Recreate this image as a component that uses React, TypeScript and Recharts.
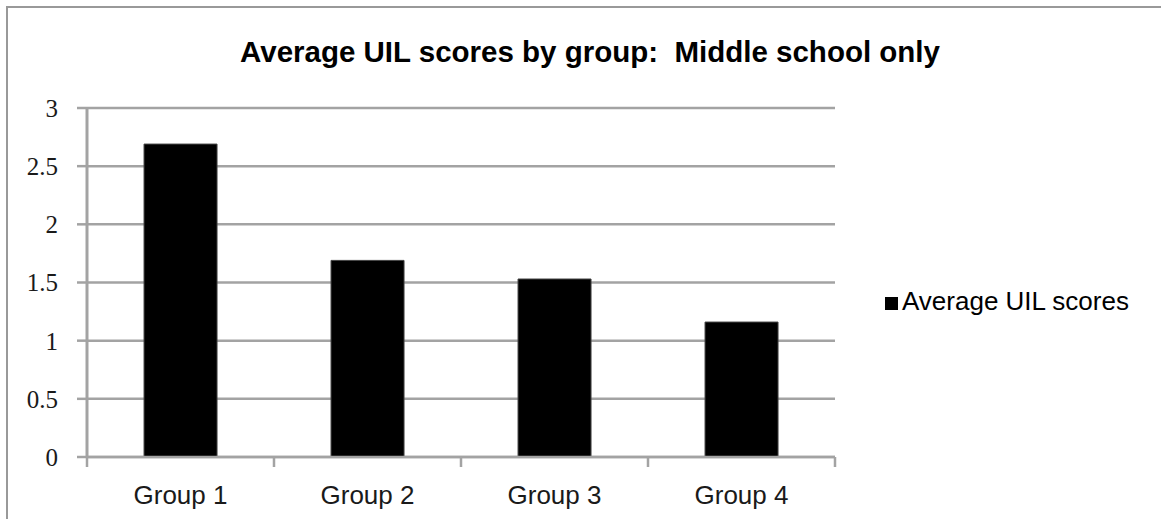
import React from 'react';
import { BarChart, Bar, XAxis, YAxis, CartesianGrid, Legend } from 'recharts';

const GROUPS = ['Group 1', 'Group 2', 'Group 3', 'Group 4'];
const UIL_SCORES = [2.69, 1.69, 1.53, 1.16];
const Y_TICKS = [0, 0.5, 1, 1.5, 2, 2.5, 3];

const data = GROUPS.map((g, i) => ({ group: g, score: UIL_SCORES[i] }));

const WIDTH = 1161;
const HEIGHT = 519;
const MARGIN = { top: 108, right: 326, bottom: 0, left: 0 };
const Y_AXIS_W = 87;
const X_AXIS_H = 62;
const LABEL_GAP = 29;
const BAND = (WIDTH - MARGIN.left - MARGIN.right - Y_AXIS_W) / GROUPS.length;

const GRID = '#a3a3a3';
const SANS = '"Liberation Sans", Arial, sans-serif';
const SERIF = '"Liberation Serif", "Times New Roman", serif';

// category label plus the small marks on the band edges (Excel style)
function GroupTick(props: any) {
  const { x, y, payload, index } = props;
  const axisY = y - LABEL_GAP;
  const left = x - BAND / 2;
  const right = x + BAND / 2;
  return (
    <g>
      <line x1={left} x2={left} y1={axisY} y2={axisY + 10} stroke={GRID} strokeWidth={2.5} />
      {index === GROUPS.length - 1 && (
        <line x1={right} x2={right} y1={axisY} y2={axisY + 10} stroke={GRID} strokeWidth={2.5} />
      )}
      <text
        x={x}
        y={y}
        dy="0.71em"
        textAnchor="middle"
        fill="#1a1a1a"
        fontSize={26}
        fontFamily={SANS}
      >
        {payload.value}
      </text>
    </g>
  );
}

export default function App() {
  return (
    <div style={{ position: 'absolute', left: 0, top: 0, width: WIDTH, height: HEIGHT, background: '#fff', overflow: 'hidden' }}>
      <div
        style={{
          position: 'absolute',
          left: 6,
          top: 6,
          width: WIDTH - 6,
          height: HEIGHT - 6,
          borderTop: '2px solid #999',
          borderLeft: '2px solid #999',
          boxSizing: 'border-box',
        }}
      />
      <div
        style={{
          position: 'absolute',
          left: 0,
          top: 38,
          width: 1180,
          textAlign: 'center',
          fontFamily: SANS,
          fontWeight: 'bold',
          fontSize: 29.5,
          lineHeight: '28px',
          color: '#000',
          whiteSpace: 'pre',
        }}
      >
        {'Average UIL scores by group:  Middle school only'}
      </div>
      <div style={{ position: 'absolute', left: 0, top: 0 }}>
        <BarChart width={WIDTH} height={HEIGHT} data={data} margin={MARGIN} barCategoryGap="30.5%">
          <CartesianGrid vertical={false} stroke={GRID} strokeWidth={2.5} />
          <XAxis
            dataKey="group"
            height={X_AXIS_H}
            axisLine={{ stroke: GRID, strokeWidth: 2.5 }}
            tickLine={false}
            tickSize={0}
            tickMargin={LABEL_GAP}
            tick={<GroupTick />}
            interval={0}
          />
          <YAxis
            width={Y_AXIS_W}
            domain={[0, 3]}
            ticks={Y_TICKS}
            axisLine={{ stroke: GRID, strokeWidth: 3 }}
            tickLine={{ stroke: GRID, strokeWidth: 2.5 }}
            tickSize={10}
            tickMargin={19}
            tick={{ fill: '#1a1a1a', fontSize: 25, fontFamily: SERIF }}
          />
          <Legend
            layout="vertical"
            align="center"
            verticalAlign="middle"
            iconType="square"
            iconSize={13}
            wrapperStyle={{
              left: 885,
              top: 286,
              width: 'auto',
              fontFamily: SANS,
              fontSize: 26,
              lineHeight: '30px',
            }}
          />
          <Bar
            dataKey="score"
            name="Average UIL scores"
            fill="#000"
            stroke="#444"
            strokeWidth={1}
            isAnimationActive={false}
          />
        </BarChart>
      </div>
    </div>
  );
}
